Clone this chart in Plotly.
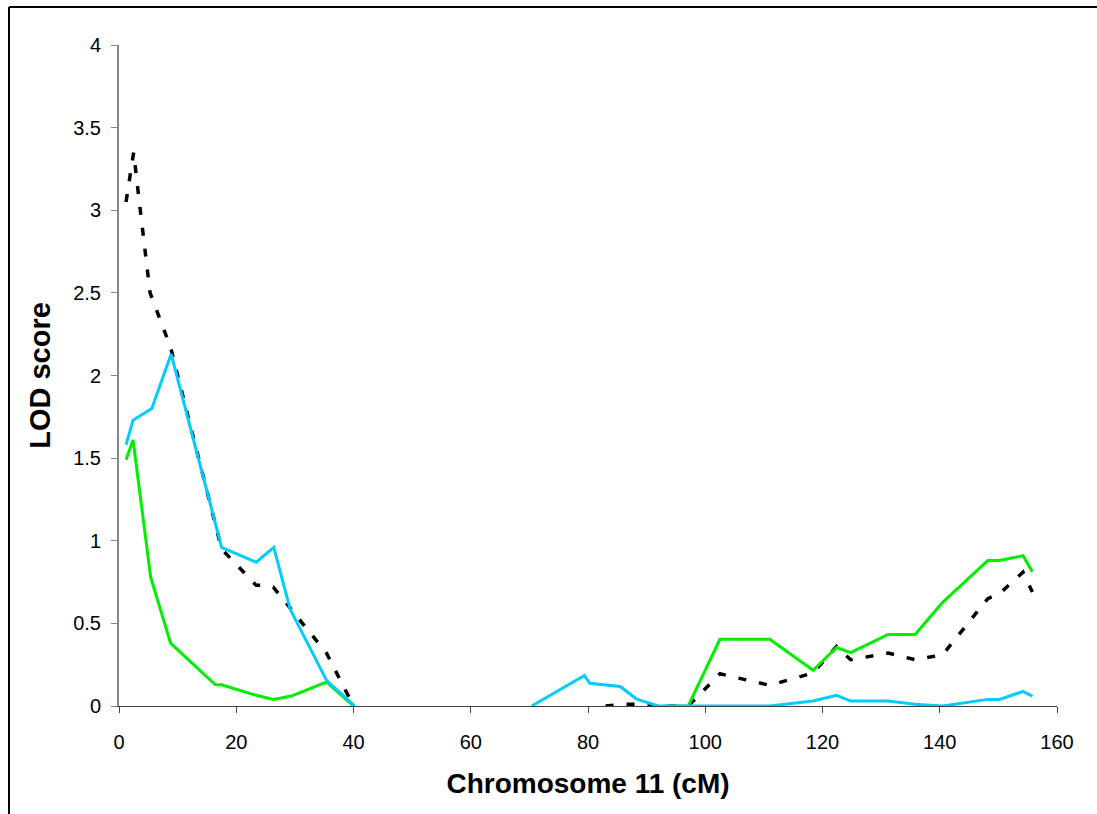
import plotly.graph_objects as go

# Data (cM, LOD); None = gap in the line
black_x = [1.2, 2.5, 3.4, 5.3, 8.8, 17.5, 23.4, 25.0, 26.3, 29.3, 35.4, 40.0, None,
           83.0, 86.0, 88.3, 92.0, 97.1, 102.5, 111.0, 118.4, 122.4, 124.8, 131.2,
           135.8, 140.5, 148.2, 150.2, 154.2, 155.8]
black_y = [3.05, 3.35, 3.07, 2.50, 2.17, 0.95, 0.73, 0.73, 0.72, 0.59, 0.32, 0.0, None,
           0.0, 0.01, 0.01, 0.0, 0.0, 0.195, 0.125, 0.20, 0.36, 0.28, 0.32,
           0.28, 0.31, 0.65, 0.68, 0.81, 0.69]

green_x = [1.2, 2.4, 5.4, 8.8, 16.4, 17.5, 23.4, 26.3, 29.4, 35.4, 40.0, None,
           93.0, 97.1, 102.5, 111.0, 118.4, 122.4, 124.8, 131.2, 135.8, 140.5,
           148.2, 150.2, 154.2, 155.8]
green_y = [1.49, 1.61, 0.78, 0.38, 0.13, 0.128, 0.065, 0.04, 0.06, 0.145, 0.0, None,
           0.0, 0.0, 0.404, 0.404, 0.216, 0.354, 0.323, 0.433, 0.433, 0.627,
           0.88, 0.88, 0.909, 0.813]

blue_x = [1.2, 2.4, 5.6, 8.9, 17.5, 23.4, 26.4, 29.2, 35.4, 40.2, None,
          70.4, 79.4, 80.3, 85.5, 88.3, 92.0, 97.1, 102.5, 111.0, 118.4, 122.4,
          124.8, 131.2, 135.8, 140.5, 148.2, 150.2, 154.2, 155.8]
blue_y = [1.58, 1.73, 1.80, 2.13, 0.96, 0.87, 0.96, 0.585, 0.155, 0.0, None,
          0.0, 0.185, 0.137, 0.118, 0.042, 0.0, 0.0, 0.0, 0.0, 0.03, 0.065,
          0.03, 0.03, 0.01, 0.0, 0.04, 0.04, 0.088, 0.06]

x_ticks = [0, 20, 40, 60, 80, 100, 120, 140, 160]
y_ticks = [0, 0.5, 1, 1.5, 2, 2.5, 3, 3.5, 4]

fig = go.Figure()
fig.add_trace(go.Scatter(x=black_x, y=black_y, mode="lines", connectgaps=False,
                         line=dict(color="#000000", width=3.5, dash="8px,13px"),
                         showlegend=False))
fig.add_trace(go.Scatter(x=green_x, y=green_y, mode="lines", connectgaps=False,
                         line=dict(color="#00EE00", width=3), showlegend=False))
fig.add_trace(go.Scatter(x=blue_x, y=blue_y, mode="lines", connectgaps=False,
                         line=dict(color="#00CCFF", width=3), showlegend=False))

font_family = "Liberation Sans, Arial, sans-serif"

fig.update_layout(
    width=1097, height=814,
    margin=dict(l=119, r=40, t=45, b=108),
    paper_bgcolor="white", plot_bgcolor="white",
    font=dict(family=font_family, color="black"),
    xaxis=dict(
        range=[0, 160], tickvals=x_ticks, ticktext=[str(v) for v in x_ticks],
        showgrid=False, zeroline=False,
        showline=True, linecolor="#404040", linewidth=1, layer="below traces",
        ticks="outside", ticklen=6, tickcolor="#404040", tickwidth=1,
        tickfont=dict(size=20, family=font_family, color="black"),
        ticklabelstandoff=12,
        title=dict(text="<b>Chromosome 11 (cM)</b>",
                   font=dict(size=28, family=font_family, color="black"),
                   standoff=21),
    ),
    yaxis=dict(
        range=[0, 4], tickvals=y_ticks, ticktext=[("%g" % v) for v in y_ticks],
        showgrid=False, zeroline=False,
        showline=True, linecolor="#868686", linewidth=2, layer="below traces",
        ticks="outside", ticklen=6, tickcolor="#868686", tickwidth=1,
        tickfont=dict(size=20, family=font_family, color="black"),
        ticklabelstandoff=6,
        title=dict(text="<b>LOD score</b>",
                   font=dict(size=29, family=font_family, color="black"),
                   standoff=14),
    ),
    shapes=[
        dict(type="line", xref="paper", yref="paper",
             x0=(9 - 119) / 938, x1=(1097 - 119) / 938,
             y0=(706 - 7) / 661, y1=(706 - 7) / 661,
             line=dict(color="black", width=2)),
        dict(type="line", xref="paper", yref="paper",
             x0=(9 - 119) / 938, x1=(9 - 119) / 938,
             y0=(706 - 7) / 661, y1=(706 - 814) / 661,
             line=dict(color="black", width=2)),
    ],
)

fig.write_html("out.html")
